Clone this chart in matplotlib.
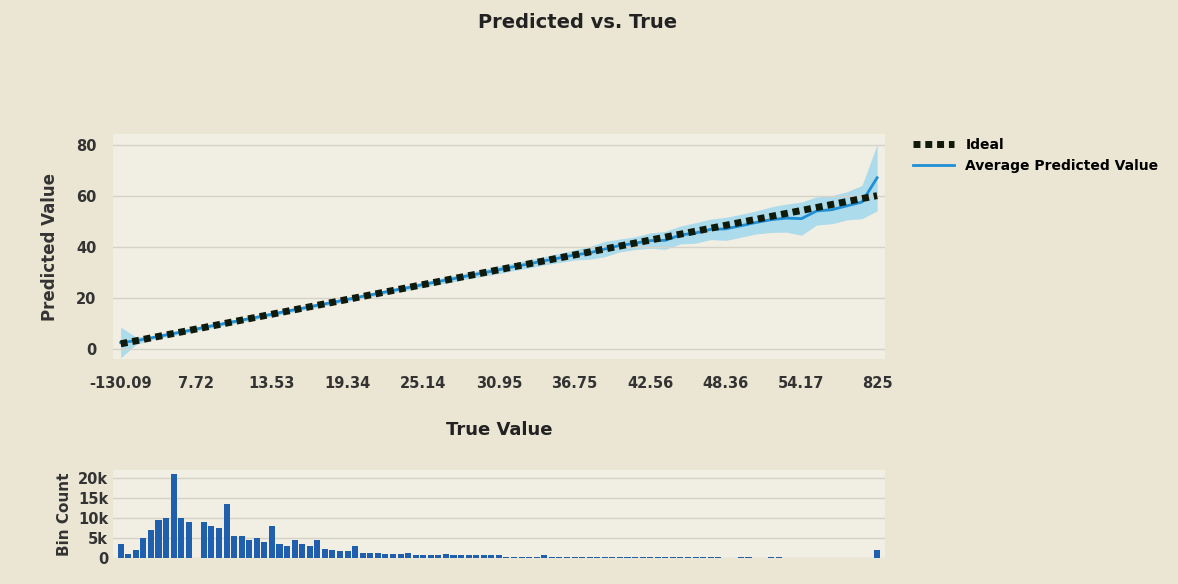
import matplotlib.pyplot as plt
import numpy as np

tick_labels = ['-130.09', '7.72', '13.53', '19.34', '25.14', '30.95', '36.75',
               '42.56', '48.36', '54.17', '825']

# ideal line end points (bin index, value)
ideal_x = [0, 100]
ideal_y = [2, 60]

# average predicted value, every 2 bins (51 points)
avg_pred = [2.5, 3.2, 4.3, 5.5, 6.6, 7.8, 9.0, 10.1, 11.3, 12.4, 13.6, 14.8, 15.9,
            17.1, 18.2, 19.4, 20.6, 21.7, 22.9, 24.0, 25.2, 26.4, 27.5, 28.7, 29.8,
            31.0, 32.2, 33.3, 34.5, 35.6, 36.8, 37.6, 39.1, 40.5, 41.4, 42.4, 42.5,
            44.6, 45.4, 46.8, 47.0, 48.2, 49.5, 50.6, 51.2, 51.0, 54.0, 54.5, 56.0,
            57.5, 67.0]
band_half = [6, 1.5, 0.8, 0.8, 0.8, 0.8, 0.8, 0.8, 0.8, 0.8, 0.8, 0.8, 0.8, 0.8,
             0.8, 0.8, 0.8, 0.8, 0.8, 1, 1, 1.1, 1.2, 1.2, 1.3, 1.5, 1.5, 1.6, 1.6,
             1.8, 2, 2.5, 3, 2.5, 2.5, 3, 3.5, 3.5, 4, 4, 4.5, 4.5, 4.5, 5, 5.5, 6.5,
             5.5, 5.5, 5.5, 6.5, 13]

hist_counts = [3.5, 1, 2, 5, 7, 9.5, 10, 21, 10, 9, 0, 9, 8, 7.5, 13.5, 5.5, 5.5,
               4.5, 5, 4, 8, 3.5, 3, 4.5, 3.5, 3, 4.5, 2.2, 2, 1.8, 1.8, 3, 1.3, 1.2,
               1.2, 1, 1, 1, 1.2, 0.8, 0.7, 0.7, 0.7, 1, 0.6, 0.6, 0.6, 0.6, 0.6,
               0.6, 0.8, 0.2, 0.2, 0.2, 0.2, 0.2, 0.7, 0.2, 0.2, 0.2, 0.2, 0.2, 0.2,
               0.2, 0.2, 0.2, 0.2, 0.2, 0.2, 0.2, 0.2, 0.2, 0.2, 0.2, 0.2, 0.2, 0.2,
               0.2, 0.2, 0.2, 0, 0, 0.2, 0.2, 0, 0, 0.2, 0.2, 0, 0, 0, 0, 0, 0, 0,
               0, 0, 0, 0, 0, 2]

bg = '#ebe6d3'
fig = plt.figure(figsize=(11.78, 5.84), dpi=100, facecolor=bg)
ax = fig.add_axes([0.096, 0.385, 0.655, 0.385], facecolor='#f1eee4')
hx = fig.add_axes([0.096, 0.045, 0.655, 0.15], facecolor='#f1eee4')

px = np.arange(0, 101, 2)
avg = np.array(avg_pred)
half = np.array(band_half)
ax.fill_between(px, avg - half, avg + half, color='#8fd3ee', alpha=0.7, lw=0)
ax.plot(px, avg, color='#1f8fd6', lw=2, label='Average Predicted Value')
ax.plot(ideal_x, ideal_y, color='#0f1a0a', lw=5, ls=(0, (1, 0.7)), label='Ideal')

ax.set_xlim(-1, 101)
ax.set_ylim(-4, 84)
ax.set_yticks([0, 20, 40, 60, 80])
ax.set_xticks(np.arange(0, 101, 10))
ax.set_xticklabels(tick_labels)
ax.grid(axis='y', color='#d5d2c8', lw=1)
for s in ax.spines.values():
    s.set_visible(False)
ax.tick_params(length=0, labelsize=10.5, colors='#333333', pad=12)
for t in ax.get_xticklabels() + ax.get_yticklabels():
    t.set_fontweight('bold')
ax.set_ylabel('Predicted Value', fontsize=12, fontweight='bold', color='#333333', labelpad=12)
ax.set_xlabel('True Value', fontsize=13, fontweight='bold', color='#222222', labelpad=22)
fig.text(0.49, 0.962, 'Predicted vs. True', ha='center', va='center',
         fontsize=14, fontweight='bold', color='#222222')
h, l = ax.get_legend_handles_labels()
ax.legend(h[::-1], l[::-1], loc='upper left', bbox_to_anchor=(1.02, 1.04), frameon=False,
          prop={'weight': 'bold', 'size': 10}, handlelength=3)

hx.bar(np.arange(len(hist_counts)), hist_counts, width=0.8, color='#1f5fae')
hx.set_xlim(-1, 101)
hx.set_ylim(0, 22)
hx.set_yticks([0, 5, 10, 15, 20])
hx.set_yticklabels(['0', '5k', '10k', '15k', '20k'])
hx.set_xticks([])
hx.grid(axis='y', color='#d5d2c8', lw=1)
hx.set_axisbelow(True)
for s in hx.spines.values():
    s.set_visible(False)
hx.tick_params(length=0, labelsize=10.5, colors='#333333')
for t in hx.get_yticklabels():
    t.set_fontweight('bold')
hx.set_ylabel('Bin Count', fontsize=11, fontweight='bold', color='#333333')

fig.savefig('out.png', dpi=100, facecolor=bg)
